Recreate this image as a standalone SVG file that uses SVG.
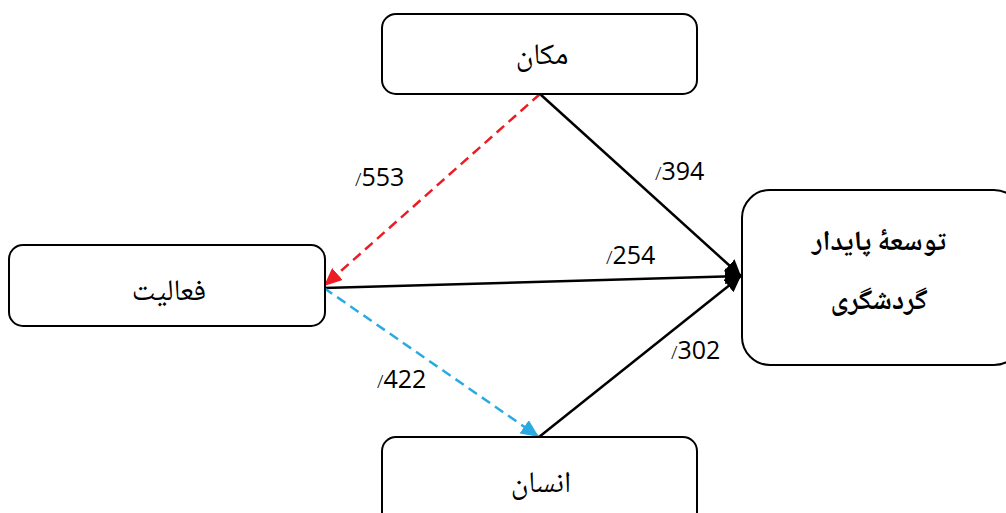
<svg xmlns="http://www.w3.org/2000/svg" width="1006" height="513" viewBox="0 0 1006 513">
<style>
.box{fill:#fff;stroke:#000;stroke-width:2}
.fa{font-family:"Noto Naskh Arabic","DejaVu Sans","Noto Sans",sans-serif;font-size:30px;fill:#000;text-anchor:middle}
.fab{font-family:"Noto Naskh Arabic","DejaVu Sans","Noto Sans",sans-serif;font-size:28px;font-weight:bold;fill:#000;text-anchor:middle}
.lbl{font-family:"Open Sans","DejaVu Sans",sans-serif;font-size:25px;fill:#000}
.sl{font-size:19px;font-weight:300}
.solid{stroke:#000;stroke-width:2.5;fill:none}
.red{stroke:#ED1C24;stroke-width:2.5;fill:none;stroke-dasharray:10 6}
.blue{stroke:#29ABE2;stroke-width:2.5;fill:none;stroke-dasharray:10 6}
</style>
<defs>
<marker id="ab" markerUnits="userSpaceOnUse" markerWidth="18" markerHeight="16" refX="16" refY="8" orient="auto"><path d="M0,0 L16,8 L0,16 Z" fill="#000"/></marker>
<marker id="ar" markerUnits="userSpaceOnUse" markerWidth="20" markerHeight="16" refX="18" refY="8" orient="auto"><path d="M0,0 L18,8 L0,16 Z" fill="#ED1C24"/></marker>
<marker id="ac" markerUnits="userSpaceOnUse" markerWidth="20" markerHeight="16" refX="18" refY="8" orient="auto"><path d="M0,0 L18,8 L0,16 Z" fill="#29ABE2"/></marker>
</defs>
<rect width="1006" height="513" fill="#fff"/>
<g id="connectors">
<line class="solid" x1="540" y1="94" x2="741" y2="276" marker-end="url(#ab)"/>
<line class="solid" x1="324" y1="288" x2="741" y2="276" marker-end="url(#ab)"/>
<line class="solid" x1="539" y1="437" x2="741" y2="276" marker-end="url(#ab)"/>
<line class="red" x1="540" y1="94" x2="324" y2="286" marker-end="url(#ar)"/>
<line class="blue" x1="324" y1="288" x2="539" y2="437" marker-end="url(#ac)"/>
<text class="lbl" x="355" y="186"><tspan class="sl">/</tspan>553</text>
<text class="lbl" x="655" y="180"><tspan class="sl">/</tspan>394</text>
<text class="lbl" x="606" y="264"><tspan class="sl">/</tspan>254</text>
<text class="lbl" x="671" y="359"><tspan class="sl">/</tspan>302</text>
<text class="lbl" x="377" y="388"><tspan class="sl">/</tspan>422</text>
</g>
<g id="node-makan">
<rect class="box" x="382" y="14" width="315" height="80" rx="14"/>
<text class="fa" x="542" y="64">مکان</text>
</g>
<g id="node-faaliat">
<rect class="box" x="9" y="245" width="316" height="81" rx="14"/>
<text class="fa" x="169" y="300">فعالیت</text>
</g>
<g id="node-ensan">
<rect class="box" x="382" y="437" width="315" height="90" rx="14"/>
<text class="fa" x="541" y="492">انسان</text>
</g>
<g id="node-tourism">
<rect class="box" x="742" y="190" width="280" height="175" rx="28"/>
<text class="fab" x="879" y="250">توسعۀ پایدار</text>
<text class="fab" x="879" y="309">گردشگری</text>
</g>
</svg>
